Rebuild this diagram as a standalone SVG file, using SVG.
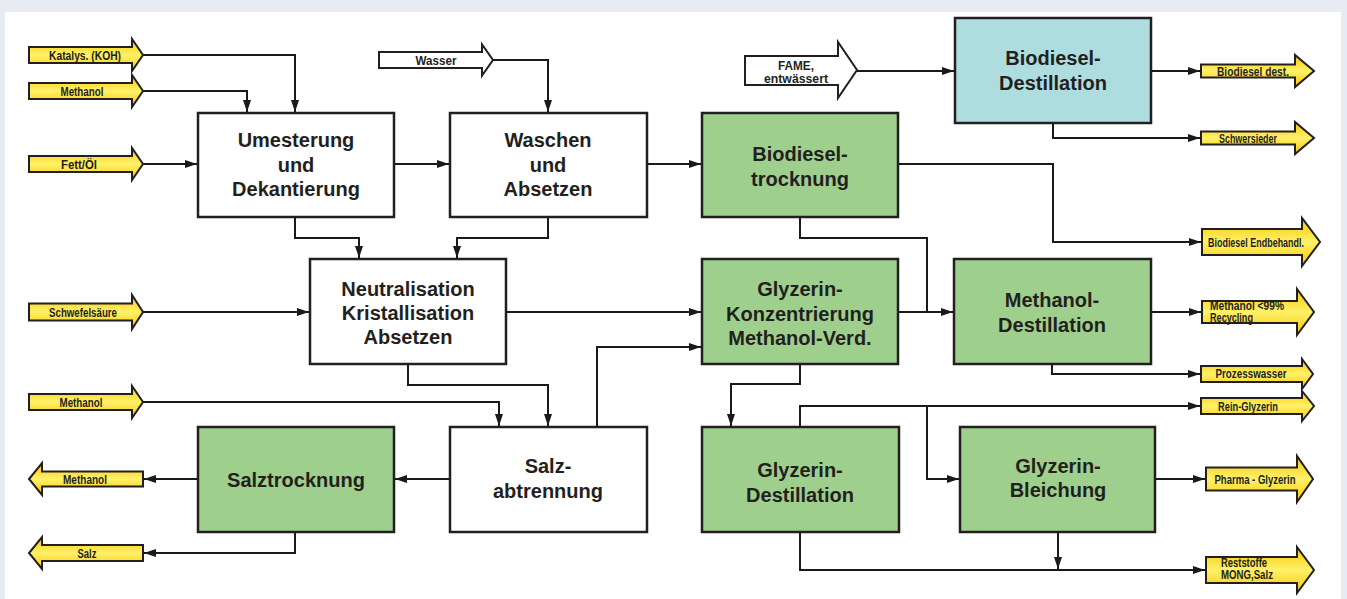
<svg xmlns="http://www.w3.org/2000/svg" width="1347" height="599" viewBox="0 0 1347 599">
<defs>
<linearGradient id="yel" x1="0" y1="0" x2="0" y2="1">
<stop offset="0" stop-color="#f7c800"/>
<stop offset="0.5" stop-color="#fff16a"/>
<stop offset="1" stop-color="#f7c800"/>
</linearGradient>
<marker id="ah" viewBox="0 0 12 8" refX="12" refY="4" markerWidth="12" markerHeight="8" orient="auto" markerUnits="userSpaceOnUse">
<path d="M0,0 L12,4 L0,8 z" fill="#1a1a1a"/>
</marker>
<style>
.box{stroke:#231f20;stroke-width:2.5}
.w{fill:#ffffff}
.g{fill:#9fcf8c}
.b{fill:#aedde0}
.ya{fill:url(#yel);stroke:#231f20;stroke-width:2;stroke-linejoin:miter}
.wa{fill:#ffffff;stroke:#231f20;stroke-width:2}
.t{font-family:"Liberation Sans",Arial,sans-serif;font-weight:bold;font-size:20px;fill:#231f20;text-anchor:middle}
.s{font-family:"Liberation Sans",Arial,sans-serif;font-weight:bold;font-size:13.5px;fill:#231f20;text-anchor:middle}
.s2{font-family:"Liberation Sans",Arial,sans-serif;font-weight:bold;font-size:12px;fill:#231f20;text-anchor:middle}
.ss{font-family:"Liberation Sans",Arial,sans-serif;font-weight:bold;font-size:12px;fill:#231f20;text-anchor:start}
.c{fill:none;stroke:#1a1a1a;stroke-width:2;marker-end:url(#ah)}
.cn{fill:none;stroke:#1a1a1a;stroke-width:2}
</style>
</defs>
<rect x="0" y="0" width="1347" height="599" fill="#e7ebf3"/>
<rect x="5" y="12" width="1336" height="587" fill="#ffffff"/>

<g id="connectors">
<path class="c" d="M143,55 H295 V112"/>
<path class="c" d="M143,91 H247 V112"/>
<path class="c" d="M143,164 H197"/>
<path class="c" d="M394,164 H449"/>
<path class="c" d="M493,60 H548 V112"/>
<path class="c" d="M647,164 H701"/>
<path class="c" d="M295,217 V238 H359 V258"/>
<path class="c" d="M548,217 V238 H457 V258"/>
<path class="c" d="M143,312 H309"/>
<path class="c" d="M506,312 H701"/>
<path class="c" d="M408,364 V385 H548 V426"/>
<path class="c" d="M143,402 H499 V426"/>
<path class="c" d="M597,427 V347 H701"/>
<path class="c" d="M450,479 H395"/>
<path class="c" d="M198,479 H144"/>
<path class="c" d="M295,532 V553 H144"/>
<path class="c" d="M857,71 H954"/>
<path class="c" d="M1151,71 H1200"/>
<path class="c" d="M1053,123 V138 H1200"/>
<path class="c" d="M898,164 H1053 V242 H1201"/>
<path class="cn" d="M800,217 V238 H927 V312"/>
<path class="c" d="M898,312 H953"/>
<path class="c" d="M1151,312 H1201"/>
<path class="c" d="M1052,364 V374 H1200"/>
<path class="c" d="M800,364 V384 H731 V426"/>
<path class="c" d="M800,427 V406 H1200"/>
<path class="c" d="M927,406 V479 H959"/>
<path class="c" d="M1155,479 H1205"/>
<path class="c" d="M800,532 V570 H1205"/>
<path class="c" d="M1058,532 V569"/>
</g>

<g id="in-katalys">
<path class="ya" d="M29,47 H132 V39 L143,55 L132,71 V63 H29 Z"/>
<text class="s" x="85" y="60" textLength="72" lengthAdjust="spacingAndGlyphs">Katalys. (KOH)</text>
</g>
<g id="in-methanol1">
<path class="ya" d="M29,83 H132 V75 L143,91 L132,107 V99 H29 Z"/>
<text class="s" x="82" y="96" textLength="43" lengthAdjust="spacingAndGlyphs">Methanol</text>
</g>
<g id="in-fett">
<path class="ya" d="M29,156 H132 V148 L143,164 L132,180 V172 H29 Z"/>
<text class="s" x="79" y="169" textLength="36" lengthAdjust="spacingAndGlyphs">Fett/Öl</text>
</g>
<g id="in-schwefel">
<path class="ya" d="M29,303.5 H132 V295 L143,312 L132,329 V320.5 H29 Z"/>
<text class="s" x="83" y="317" textLength="68" lengthAdjust="spacingAndGlyphs">Schwefelsäure</text>
</g>
<g id="in-methanol2">
<path class="ya" d="M29,394 H132 V386 L143,402 L132,418 V410 H29 Z"/>
<text class="s" x="81" y="407" textLength="43" lengthAdjust="spacingAndGlyphs">Methanol</text>
</g>
<g id="out-methanol">
<path class="ya" d="M143,471.5 H42 V463 L29,479 L42,495 V486.5 H143 Z"/>
<text class="s" x="85" y="484" textLength="44" lengthAdjust="spacingAndGlyphs">Methanol</text>
</g>
<g id="out-salz">
<path class="ya" d="M143,545 H42 V537 L29,553 L42,569 V561 H143 Z"/>
<text class="s" x="87" y="558" textLength="19" lengthAdjust="spacingAndGlyphs">Salz</text>
</g>
<g id="in-wasser">
<path class="wa" d="M379,52 H482 V44.5 L493,60 L482,75.5 V68 H379 Z"/>
<text class="s" x="436" y="65" textLength="41" lengthAdjust="spacingAndGlyphs">Wasser</text>
</g>
<g id="in-fame">
<path class="wa" d="M745,56 H838 V42 L857,70 L838,98 V85 H745 Z"/>
<text class="s2" x="796" y="70" textLength="36" lengthAdjust="spacingAndGlyphs">FAME,</text>
<text class="s2" x="796" y="83" textLength="64" lengthAdjust="spacingAndGlyphs">entwässert</text>
</g>

<g id="out-biodiesel-dest">
<path class="ya" d="M1201,64.5 H1295 V55 L1314,71 L1295,87 V77.5 H1201 Z"/>
<text class="s" x="1253" y="76" textLength="72" lengthAdjust="spacingAndGlyphs">Biodiesel dest.</text>
</g>
<g id="out-schwersieder">
<path class="ya" d="M1201,131.5 H1295 V122 L1314,138 L1295,154 V144.5 H1201 Z"/>
<text class="s" x="1248" y="143" textLength="58" lengthAdjust="spacingAndGlyphs">Schwersieder</text>
</g>
<g id="out-endbehandl">
<path class="ya" d="M1202,229 H1302 V218 L1320,242 L1302,266 V255 H1202 Z"/>
<text class="s" x="1256" y="247" textLength="96" lengthAdjust="spacingAndGlyphs">Biodiesel Endbehandl.</text>
</g>
<g id="out-methanol-recycling">
<path class="ya" d="M1202,301 H1297 V289 L1314,312 L1297,335 V323 H1202 Z"/>
<text class="ss" x="1210" y="310" textLength="74" lengthAdjust="spacingAndGlyphs">Methanol &lt;99%</text>
<text class="ss" x="1210" y="322" textLength="43" lengthAdjust="spacingAndGlyphs">Recycling</text>
</g>
<g id="out-prozesswasser">
<path class="ya" d="M1201,366 H1302 V359 L1313,374 L1302,389 V382 H1201 Z"/>
<text class="s" x="1251" y="378" textLength="71" lengthAdjust="spacingAndGlyphs">Prozesswasser</text>
</g>
<g id="out-rein-glyzerin">
<path class="ya" d="M1201,398 H1302 V391 L1314,406 L1302,421 V414 H1201 Z"/>
<text class="s" x="1248" y="411" textLength="60" lengthAdjust="spacingAndGlyphs">Rein-Glyzerin</text>
</g>
<g id="out-pharma">
<path class="ya" d="M1206,467.5 H1297 V456 L1313,479 L1297,502 V490.5 H1206 Z"/>
<text class="s" x="1255" y="484" textLength="81" lengthAdjust="spacingAndGlyphs">Pharma - Glyzerin</text>
</g>
<g id="out-reststoffe">
<path class="ya" d="M1206,557 H1297 V547 L1314,570 L1297,593 V583 H1206 Z"/>
<text class="ss" x="1221" y="567" textLength="46" lengthAdjust="spacingAndGlyphs">Reststoffe</text>
<text class="ss" x="1221" y="579" textLength="52" lengthAdjust="spacingAndGlyphs">MONG,Salz</text>
</g>

<g id="umesterung">
<rect class="box w" x="198" y="113" width="196" height="104"/>
<text class="t" x="296" y="147">Umesterung</text>
<text class="t" x="296" y="172">und</text>
<text class="t" x="296" y="196">Dekantierung</text>
</g>
<g id="waschen">
<rect class="box w" x="450" y="113" width="197" height="104"/>
<text class="t" x="548" y="147">Waschen</text>
<text class="t" x="548" y="172">und</text>
<text class="t" x="548" y="196">Absetzen</text>
</g>
<g id="biodieseltrocknung">
<rect class="box g" x="702" y="113" width="196" height="104"/>
<text class="t" x="800" y="161">Biodiesel-</text>
<text class="t" x="800" y="186">trocknung</text>
</g>
<g id="biodiesel-destillation">
<rect class="box b" x="955" y="18" width="196" height="105"/>
<text class="t" x="1053" y="65">Biodiesel-</text>
<text class="t" x="1053" y="90">Destillation</text>
</g>
<g id="neutralisation">
<rect class="box w" x="310" y="259" width="196" height="105"/>
<text class="t" x="408" y="296">Neutralisation</text>
<text class="t" x="408" y="320">Kristallisation</text>
<text class="t" x="408" y="344">Absetzen</text>
</g>
<g id="glyzerin-konzentrierung">
<rect class="box g" x="702" y="259" width="196" height="105"/>
<text class="t" x="800" y="296">Glyzerin-</text>
<text class="t" x="800" y="321">Konzentrierung</text>
<text class="t" x="800" y="345">Methanol-Verd.</text>
</g>
<g id="methanol-destillation">
<rect class="box g" x="954" y="259" width="197" height="105"/>
<text class="t" x="1052" y="307">Methanol-</text>
<text class="t" x="1052" y="332">Destillation</text>
</g>
<g id="salztrocknung">
<rect class="box g" x="198" y="427" width="196" height="105"/>
<text class="t" x="296" y="487">Salztrocknung</text>
</g>
<g id="salzabtrennung">
<rect class="box w" x="450" y="427" width="197" height="105"/>
<text class="t" x="548" y="473">Salz-</text>
<text class="t" x="548" y="498">abtrennung</text>
</g>
<g id="glyzerin-destillation">
<rect class="box g" x="702" y="427" width="197" height="105"/>
<text class="t" x="800" y="477">Glyzerin-</text>
<text class="t" x="800" y="502">Destillation</text>
</g>
<g id="glyzerin-bleichung">
<rect class="box g" x="960" y="427" width="195" height="105"/>
<text class="t" x="1058" y="473">Glyzerin-</text>
<text class="t" x="1058" y="497">Bleichung</text>
</g>
</svg>
